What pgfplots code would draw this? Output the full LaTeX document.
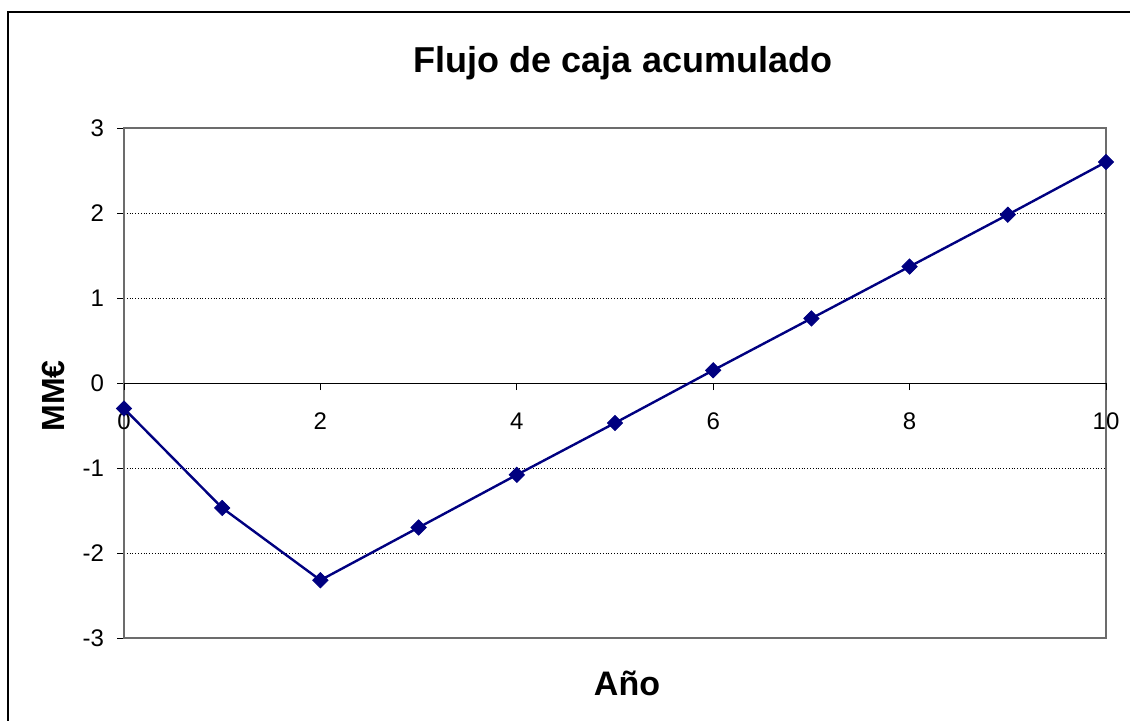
\documentclass[border=0pt]{standalone}
\usepackage{fontspec}
\setmainfont{Liberation Sans}
\usepackage{pgfplots}
\pgfplotsset{compat=1.18}
\definecolor{navyc}{HTML}{000080}
\begin{document}
\begin{tikzpicture}[x=1pt,y=1pt]
\useasboundingbox (0,0) rectangle (565,360);
\draw[line width=0.75pt] (4,-2) -- (4,354) -- (570,354);
\begin{axis}[
  at={(62pt,41pt)}, anchor=south west,
  scale only axis, width=491pt, height=255pt,
  xmin=0, xmax=10, ymin=-3, ymax=3,
  xtick=\empty,
  ytick={-3,-2,-1,0,1,2,3},
  yticklabels={-3,-2,-1,0,1,2,3},
  ytick pos=left,
  yticklabel style={font=\fontsize{12}{14}\selectfont, xshift=-3pt},
  tick align=outside,
  major tick length=3.5pt,
  tick style={black, line width=0.5pt},
  axis line style={draw=gray!85!black, line width=0.8pt},
  ymajorgrids,
  grid style={black, densely dotted, line width=0.4pt},
  clip=false,
]
\end{axis}
\begin{axis}[
  at={(62pt,41pt)}, anchor=south west,
  scale only axis, width=491pt, height=255pt,
  xmin=0, xmax=10, ymin=-3, ymax=3,
  axis x line*=middle,
  axis y line=none,
  xtick={0,2,4,6,8,10},
  xticklabels={0,2,4,6,8,10},
  xticklabel style={font=\fontsize{12}{14}\selectfont, yshift=-8pt},
  tick align=outside,
  major tick length=3.5pt,
  tick style={black, line width=0.5pt},
  x axis line style={black, line width=0.5pt},
  clip=false,
]
\addplot[navyc, line width=1.2pt, mark=square*, mark size=2.7pt, mark options={fill=navyc, draw=navyc, rotate=45, line width=0.4pt}]
  coordinates {(0,-0.30) (1,-1.47) (2,-2.32) (3,-1.70) (4,-1.08) (5,-0.47) (6,0.15) (7,0.76) (8,1.37) (9,1.98) (10,2.60)};
\end{axis}
\node[font=\bfseries\fontsize{18}{21}\selectfont] at (311.5,328.5) {Flujo de caja acumulado};
\node[font=\bfseries\fontsize{17}{20}\selectfont] at (313.5,18.5) {Año};
\node[font=\bfseries\fontsize{16}{19}\selectfont, rotate=90] at (26.5,162) {MM€};
\end{tikzpicture}
\end{document}
